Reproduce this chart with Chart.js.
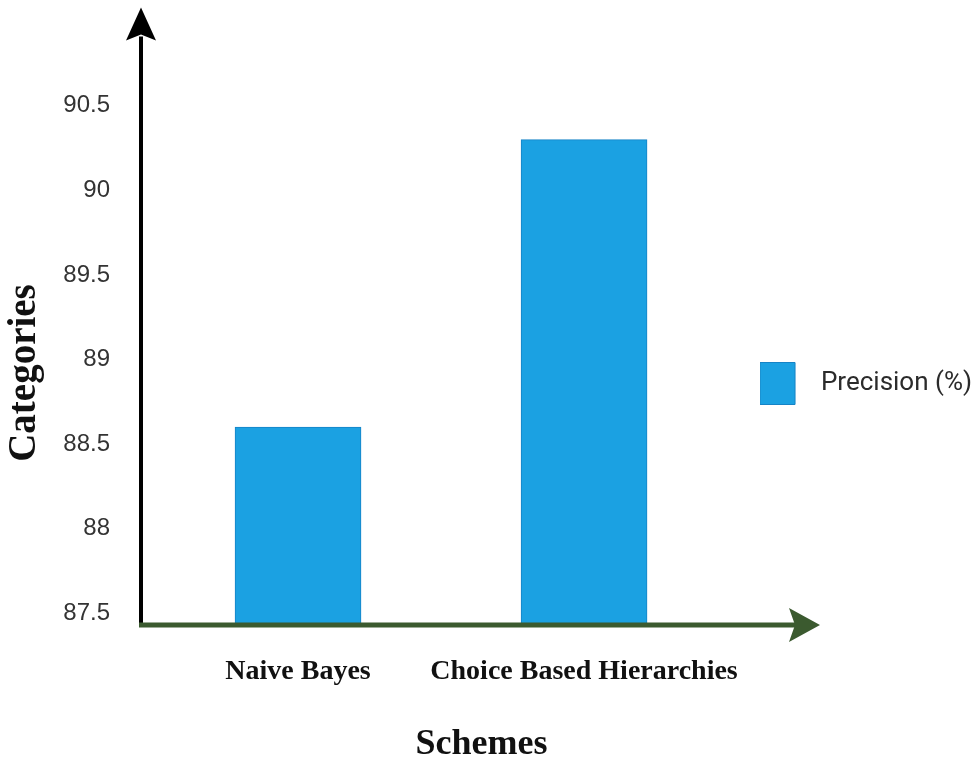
<!DOCTYPE html>
<html>
<head>
<meta charset="utf-8">
<title>Precision by scheme</title>
<script src="https://cdn.jsdelivr.net/npm/chart.js@4/dist/chart.umd.min.js"></script>
<style>
  html, body { margin: 0; padding: 0; background: #ffffff; }
  #wrap { width: 979px; height: 763px; }
</style>
</head>
<body>
<div id="wrap"><canvas id="chart" width="979" height="763"></canvas></div>
<script>
// Schemes compared and their precision (%)
const schemes = ['Naive Bayes', 'Choice Based Hierarchies'];
const precision = [88.6, 90.3];
const seriesName = 'Precision (%)';
const xTitle = 'Schemes';
const yTitle = 'Categories';

// Value axis
const yTicks = [87.5, 88, 88.5, 89, 89.5, 90, 90.5];
const yMin = 87.43;
const yMax = 90.857;

const barFill = '#1ba1e2';
const barStroke = '#1683c6';
const xAxisColor = '#3b5a2f';

// Both axes are drawn as arrows; the value-axis title sits beside the lower part of the axis
const axisArrows = {
  id: 'axisArrows',
  afterDraw(chart) {
    const { ctx, chartArea } = chart;
    const x0 = chartArea.left;
    const yb = chartArea.bottom;
    const headBase = chartArea.top - 5;

    ctx.save();
    // vertical axis
    ctx.strokeStyle = '#000000';
    ctx.lineWidth = 4;
    ctx.beginPath();
    ctx.moveTo(x0, yb);
    ctx.lineTo(x0, headBase - 4);
    ctx.stroke();
    ctx.fillStyle = '#000000';
    ctx.beginPath();
    ctx.moveTo(x0, headBase - 33);
    ctx.lineTo(x0 + 15, headBase);
    ctx.lineTo(x0, headBase - 6);
    ctx.lineTo(x0 - 15, headBase);
    ctx.closePath();
    ctx.fill();

    // horizontal axis
    const tipX = x0 + 679;
    ctx.strokeStyle = xAxisColor;
    ctx.lineWidth = 5;
    ctx.beginPath();
    ctx.moveTo(x0 - 2, yb);
    ctx.lineTo(tipX - 22, yb);
    ctx.stroke();
    ctx.fillStyle = xAxisColor;
    ctx.beginPath();
    ctx.moveTo(tipX, yb);
    ctx.lineTo(tipX - 31, yb - 17);
    ctx.lineTo(tipX - 25, yb);
    ctx.lineTo(tipX - 31, yb + 17);
    ctx.closePath();
    ctx.fill();

    // value-axis title, reading bottom to top
    ctx.translate(25, yb - 252);
    ctx.rotate(-Math.PI / 2);
    ctx.fillStyle = '#111111';
    ctx.font = 'bold 39px "Liberation Serif"';
    ctx.textAlign = 'center';
    ctx.textBaseline = 'middle';
    ctx.fillText(yTitle, 0, 0);
    ctx.restore();
  }
};

new Chart(document.getElementById('chart'), {
  type: 'bar',
  data: {
    datasets: [{
      label: seriesName,
      data: precision.map((v, i) => ({ x: i, y: v })),
      backgroundColor: barFill,
      borderColor: barStroke,
      borderWidth: 1,
      barThickness: 126
    }]
  },
  options: {
    responsive: false,
    animation: false,
    devicePixelRatio: 1,
    layout: {
      padding: { top: 4, left: -19, right: -3, bottom: 0 }
    },
    plugins: {
      tooltip: { enabled: false },
      subtitle: {
        display: true,
        position: 'bottom',
        text: xTitle,
        color: '#111111',
        font: { family: 'Liberation Serif', size: 36, weight: 'bold', lineHeight: 1 },
        padding: { top: 0, bottom: 0 }
      },
      legend: {
        position: 'right',
        labels: {
          boxWidth: 35,
          boxHeight: 42,
          padding: 0,
          color: '#2b2b2b',
          font: { family: 'Roboto', size: 26 },
          generateLabels(chart) {
            const items = Chart.defaults.plugins.legend.labels.generateLabels(chart);
            items.forEach(it => { it.text = '  ' + it.text; });
            return items;
          }
        }
      }
    },
    scales: {
      x: {
        type: 'linear',
        offset: false,
        min: -0.549,
        max: 1.6153,
        grid: { display: false, drawTicks: false },
        border: { display: false },
        afterBuildTicks(scale) {
          scale.ticks = schemes.map((_, i) => ({ value: i }));
        },
        afterFit(scale) { scale.height = 102; },
        ticks: {
          padding: 30,
          color: '#111111',
          font: { family: 'Liberation Serif', size: 28, weight: 'bold' },
          callback: (v) => schemes[v]
        }
      },
      y: {
        type: 'linear',
        min: yMin,
        max: yMax,
        grid: { display: false, drawTicks: false },
        border: { display: false },
        afterBuildTicks(scale) {
          scale.ticks = yTicks.map(v => ({ value: v }));
        },
        afterFit(scale) { scale.width = 160; },
        ticks: {
          padding: 31,
          color: '#333333',
          font: { family: 'Liberation Sans', size: 24 },
          callback: (v) => String(v)
        }
      }
    }
  },
  plugins: [axisArrows]
});
</script>
</body>
</html>
